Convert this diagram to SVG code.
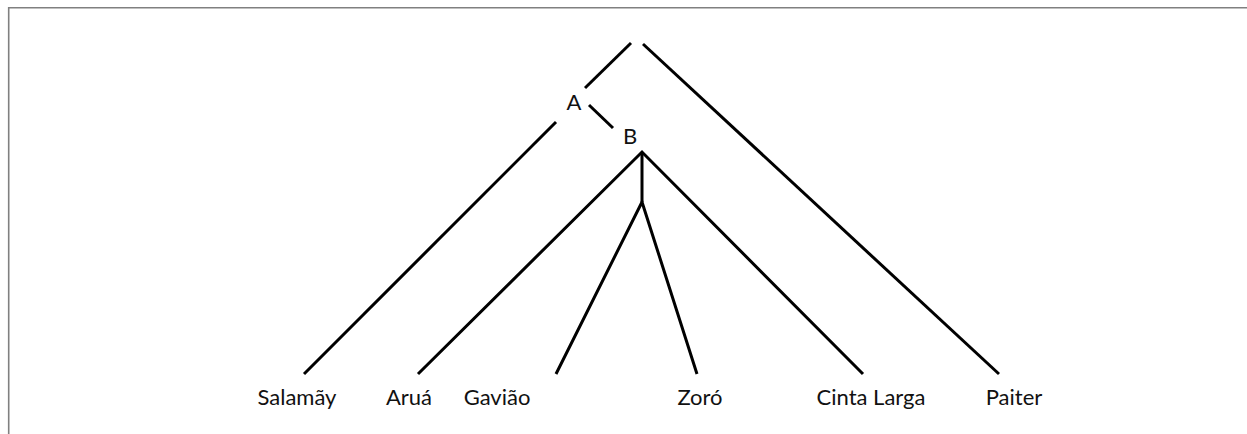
<svg xmlns="http://www.w3.org/2000/svg" width="1247" height="434" viewBox="0 0 1247 434">
<style>
.frame{stroke:#808080;stroke-width:1.6;fill:none}
.edge{stroke:#000;stroke-width:3;fill:none;stroke-linecap:butt;stroke-linejoin:miter}
.lbl{font-family:Lato,"Open Sans","Liberation Sans",sans-serif;font-size:22px;fill:#111;text-anchor:middle}
</style>
<rect width="1247" height="434" fill="#fff"/>
<path class="frame" d="M8.7,434 V7.7 H1247"/>
<g id="connectors">
<line class="edge" x1="631" y1="43" x2="585" y2="88"/>
<line class="edge" x1="556" y1="122" x2="304" y2="374"/>
<line class="edge" x1="643" y1="44" x2="999" y2="374"/>
<line class="edge" x1="589" y1="105" x2="613" y2="128"/>
<polyline class="edge" points="418,374 642,152 863,374"/>
<line class="edge" x1="642" y1="152" x2="642" y2="202"/>
<polyline class="edge" points="556,374 642,202 697,374"/>
</g>
<g id="node-A"><text class="lbl" x="574" y="110">A</text></g>
<g id="node-B"><text class="lbl" x="630" y="144">B</text></g>
<g id="node-salamay"><text class="lbl" x="297" y="405">Salamãy</text></g>
<g id="node-arua"><text class="lbl" x="409" y="405">Aruá</text></g>
<g id="node-gaviao"><text class="lbl" x="497" y="405">Gavião</text></g>
<g id="node-zoro"><text class="lbl" x="700" y="405">Zoró</text></g>
<g id="node-cinta"><text class="lbl" x="871" y="405">Cinta Larga</text></g>
<g id="node-paiter"><text class="lbl" x="1014" y="405">Paiter</text></g>
</svg>
